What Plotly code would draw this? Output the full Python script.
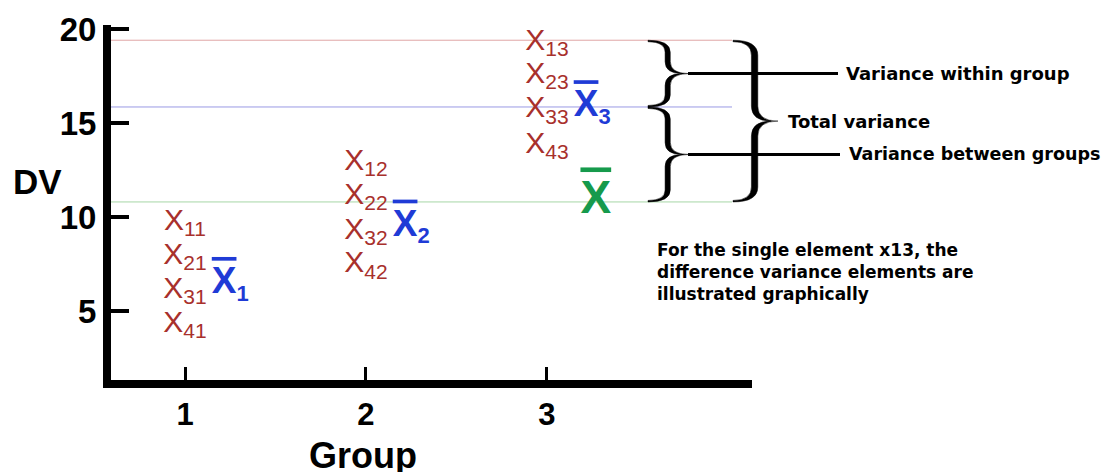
import plotly.graph_objects as go

# data
groups = [1, 2, 3]
group_ticks = ["1", "2", "3"]
group1 = [9.7, 7.9, 6.1, 4.3]
group2 = [12.9, 11.1, 9.25, 7.45]
group3 = [19.3, 17.55, 15.7, 13.8]
group_means = [6.45, 9.5, 15.85]
grand_mean = 10.8
x13_level = 19.4
y_ticks = [5, 10, 15, 20]

# the page body has an 8px margin, so work in window pixels and shift
OFF = 8
W, H = 1119 - OFF, 472 - OFF
ML, MT = 111 - OFF, 25 - OFF
MR, MB = 1119 - 752, 472 - 380
PW = W - ML - MR
PH = H - MT - MB
XR = [0.591, 4.133]
YR = [1.33, 20.21]
PPU = PH / (YR[1] - YR[0])   # pixels per y unit


def px(xp):
    return (xp - OFF - ML) / PW


def py(yp):
    return 1 - (yp - OFF - MT) / PH


def dy(p):
    return p / PPU


red = "#a8302c"
blue = "#1f3bd6"
green = "#169a4c"
font = "Liberation Sans, Arial, sans-serif"
wide = "DejaVu Sans, Verdana, sans-serif"

fig = go.Figure()

# individual scores
for g, vals in zip(groups, [group1, group2, group3]):
    fig.add_trace(go.Scatter(
        x=[g] * len(vals), y=vals, mode="text",
        text=["X<sub>%d%d</sub>" % (i + 1, g) for i in range(len(vals))],
        textposition="middle center",
        textfont=dict(family=font, size=30, color=red),
        cliponaxis=False, hoverinfo="skip"))

# group means
fig.add_trace(go.Scatter(
    x=[g + 0.25 for g in groups], y=group_means, mode="text",
    text=['<span style="text-decoration:overline">X</span>'
          '<sub><span style="font-size:22px">%d</span></sub>' % g for g in groups],
    textposition="middle center",
    textfont=dict(family=font, size=37, color=blue, weight="bold"),
    cliponaxis=False, hoverinfo="skip"))

# grand mean
fig.add_trace(go.Scatter(
    x=[groups[-1] + 0.27], y=[grand_mean], mode="text",
    text=['<span style="text-decoration:overline">X</span>'],
    textposition="middle center",
    textfont=dict(family=font, size=46, color=green, weight="bold"),
    cliponaxis=False, hoverinfo="skip"))

shapes = []
for lvl, col in [(x13_level, "#e0a6a6"), (group_means[2], "#9a9ae4"), (grand_mean, "#a6d6a6")]:
    shapes.append(dict(type="line", xref="paper", yref="y", x0=0, x1=px(732),
                       y0=lvl, y1=lvl, line=dict(color=col, width=1), layer="below"))


def brace(xl, xt, ytop, ybot, r, t):
    # filled "}" : x in window pixels, y in data units
    xm = xl + (xt - xl) * 0.48
    ym = (ytop + ybot) / 2
    e = 1.5
    L, Mo, Mi, T, Ti = px(xl), px(xm + t), px(xm - t), px(xt), px(xt - 7)
    path = (f"M{L},{ytop} Q{Mo},{ytop} {Mo},{ytop - dy(r)} L{Mo},{ym + dy(r)} "
            f"Q{Mo},{ym} {T},{ym} Q{Mo},{ym} {Mo},{ym - dy(r)} L{Mo},{ybot + dy(r)} "
            f"Q{Mo},{ybot} {L},{ybot} L{L},{ybot + dy(e)} "
            f"Q{Mi},{ybot + dy(e)} {Mi},{ybot + dy(r)} L{Mi},{ym - dy(r)} "
            f"Q{Mi},{ym} {Ti},{ym} Q{Mi},{ym} {Mi},{ym + dy(r)} L{Mi},{ytop - dy(r)} "
            f"Q{Mi},{ytop - dy(e)} {L},{ytop - dy(e)} Z")
    return dict(type="path", xref="paper", yref="y", path=path,
                fillcolor="black", line=dict(color="black", width=0.5))


shapes.append(brace(648, 689, x13_level, group_means[2], 12, 2.6))
shapes.append(brace(648, 689, group_means[2], grand_mean, 12, 2.6))
shapes.append(brace(733, 778, x13_level, grand_mean, 15, 3.2))

within_y = (x13_level + group_means[2]) / 2
between_y = (group_means[2] + grand_mean) / 2
total_y = (x13_level + grand_mean) / 2
shapes.append(dict(type="line", xref="paper", yref="y", x0=px(688), x1=px(838),
                   y0=within_y, y1=within_y, line=dict(color="black", width=3)))
shapes.append(dict(type="line", xref="paper", yref="y", x0=px(688), x1=px(840),
                   y0=between_y, y1=between_y, line=dict(color="black", width=3)))

lab = dict(family=wide, size=18, color="black", weight="bold")
annotations = [
    dict(text="Variance within group", xref="paper", yref="y", x=px(844), y=within_y,
         xanchor="left", yanchor="middle", showarrow=False, font=lab),
    dict(text="Total variance", xref="paper", yref="y", x=px(786), y=total_y,
         xanchor="left", yanchor="middle", showarrow=False, font=lab),
    dict(text="Variance between groups", xref="paper", yref="y", x=px(847), y=between_y,
         xanchor="left", yanchor="middle", showarrow=False, font=dict(lab, size=17.5)),
    dict(text="For the single element x13, the<br>difference variance elements are<br>illustrated graphically",
         xref="paper", yref="paper", x=px(655), y=py(238), xanchor="left", yanchor="top",
         align="left", showarrow=False, font=dict(family=wide, size=17, color="black", weight="bold")),
    dict(text="DV", xref="paper", yref="paper", x=px(37), y=py(181), xanchor="center",
         yanchor="middle", showarrow=False, font=dict(family=font, size=35, color="black", weight="bold")),
    dict(text="Group", xref="paper", yref="paper", x=px(363), y=py(455), xanchor="center",
         yanchor="middle", showarrow=False, font=dict(family=font, size=36, color="black", weight="bold")),
]

fig.update_layout(
    width=W, height=H, margin=dict(l=ML, r=MR, t=MT, b=MB),
    paper_bgcolor="white", plot_bgcolor="white", showlegend=False,
    shapes=shapes, annotations=annotations,
    xaxis=dict(range=XR, tickvals=groups, ticktext=group_ticks, automargin=False,
               showline=True, linewidth=8, linecolor="black", showgrid=False, zeroline=False,
               ticks="inside", ticklen=13, tickwidth=3, tickcolor="black",
               tickfont=dict(family=font, size=31, color="black", weight="bold")),
    yaxis=dict(range=YR, tickvals=y_ticks, automargin=False,
               showline=True, linewidth=8, linecolor="black", showgrid=False, zeroline=False,
               ticks="inside", ticklen=18, tickwidth=4, tickcolor="black",
               tickfont=dict(family=font, size=33, color="black", weight="bold")),
)

fig.write_html("out.html")
